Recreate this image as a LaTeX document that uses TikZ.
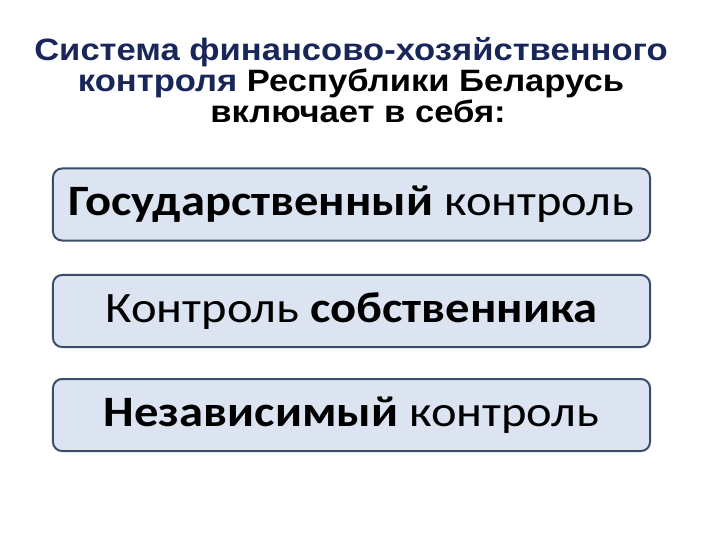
\documentclass[tikz,border=0pt]{standalone}
\usepackage{fontspec}
\setmainfont{Liberation Sans}
\newfontfamily\boxfont{Carlito}
\definecolor{titleblue}{HTML}{18265A}
\definecolor{boxfill}{HTML}{DCE4F1}
\definecolor{boxline}{HTML}{3A4D6B}
\newcommand{\stretchtext}[1]{\scalebox{1.12}[1]{#1}}

\begin{document}
\begin{tikzpicture}[x=1bp, y=-1bp,
    item/.style={draw=boxline, line width=2bp, fill=boxfill, rounded corners=9bp,
        minimum width=597bp, minimum height=72bp, inner sep=0pt,
        font=\boxfont\fontsize{43.5}{50}\selectfont}]
    \useasboundingbox (0, 0) rectangle (720, 540);

    \node [align=center, font=\bfseries\fontsize{31}{31}\selectfont] (title) at (351, 80)
        {\stretchtext{\textcolor{titleblue}{Система финансово-хозяйственного}}\\
         \stretchtext{\textcolor{titleblue}{контроля} Республики Беларусь}\\
         \hspace*{14bp}\stretchtext{включает в себя:}};

    \node [item] (gos) at (351.5, 204.5) {\stretchtext{\textbf{Государственный} контроль}};
    \node [item] (own) at (351.5, 311) {\stretchtext{Контроль \textbf{собственника}}};
    \node [item] (ind) at (351.5, 415) {\stretchtext{\textbf{Независимый} контроль}};
\end{tikzpicture}
\end{document}
